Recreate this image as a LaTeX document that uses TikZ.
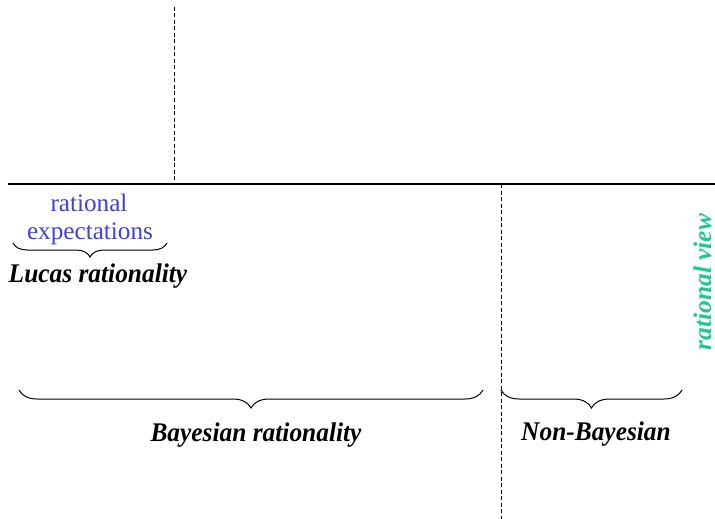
\documentclass[tikz,border=0pt]{standalone}
\usepackage{fontspec}
\setmainfont{Liberation Serif}
\usetikzlibrary{decorations.pathreplacing}
\definecolor{rexblue}{RGB}{64,64,220}
\definecolor{viewgreen}{RGB}{30,200,150}
\tikzset{
  every picture/.style={x=1pt,y=-1pt},
  axisline/.style={line width=1.3pt},
  divider/.style={line width=1pt,dash pattern=on 4pt off 2.5pt},
  curly/.style={decorate,decoration={brace,mirror,amplitude=#1},line width=1pt},
  curly/.default=18pt,
  labelbase/.style={font=\fontsize{25.4}{28}\selectfont\bfseries\itshape,inner sep=0pt,anchor=base},
  label/.style={labelbase,yscale=1.06,transform shape},
  bluetext/.style={font=\fontsize{25.2}{28}\selectfont,text=rexblue,inner sep=0pt,anchor=base},
}
\begin{document}
\begin{tikzpicture}
\useasboundingbox (0,0) rectangle (715,519);
% axis and dividers
\coordinate (hl) at (8,184);
\coordinate (hr) at (715,184);
\draw[axisline] (hl) -- (hr);
\coordinate (d1t) at (174,7);
\coordinate (d1b) at (174,184);
\draw[divider] (d1t) -- (d1b);
\coordinate (d2t) at (501,184);
\coordinate (d2b) at (501,519);
\draw[divider] (d2t) -- (d2b);
% rational expectations
\node[bluetext] (rex1) at (89,211) {rational};
\node[bluetext] (rex2) at (90,239) {expectations};
\coordinate (b1l) at (13,243);
\coordinate (b1r) at (167,243);
\draw[curly=14pt] (b1l) -- (b1r);
\node[label] (lucas) at (98,282) {Lucas rationality};
% rational view
\node[labelbase,text=viewgreen,rotate=90] (view) at (711,282) {rational view};
% Bayesian / non-Bayesian
\coordinate (b2l) at (19,390);
\coordinate (b2r) at (483,390);
\draw[curly] (b2l) -- (b2r);
\node[label] (bayes) at (256,441) {Bayesian rationality};
\coordinate (b3l) at (501,390);
\coordinate (b3r) at (682,390);
\draw[curly] (b3l) -- (b3r);
\node[label] (nonbayes) at (596,440) {Non-Bayesian};
\end{tikzpicture}
\end{document}
